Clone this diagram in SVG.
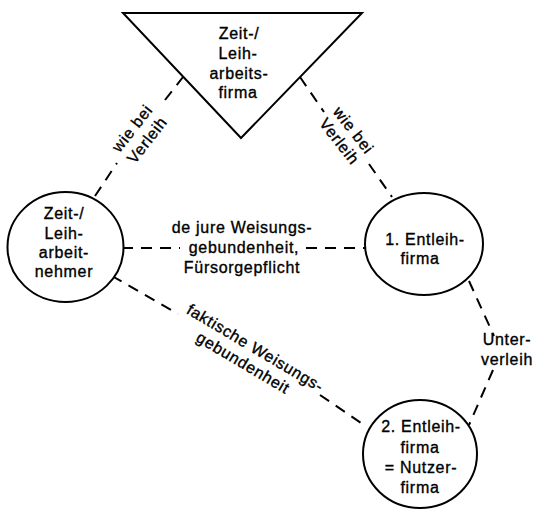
<svg xmlns="http://www.w3.org/2000/svg" width="534" height="510" viewBox="0 0 534 510">
<style>
.n{fill:#fff;stroke:#000;stroke-width:2}
.c{fill:none;stroke:#000;stroke-width:2;stroke-dasharray:11 8}
text{font-family:"Liberation Sans",Arial,sans-serif;font-size:16px;fill:#000;stroke:#000;stroke-width:0.35;letter-spacing:0.7px;text-anchor:middle}
</style>
<rect width="534" height="510" fill="#fff"/>
<g id="connectors">
<line class="c" x1="95" y1="196" x2="117" y2="163"/>
<line class="c" x1="165" y1="100" x2="183" y2="77"/>
<line class="c" x1="300" y1="77" x2="324" y2="112"/>
<line class="c" x1="369" y1="164" x2="392" y2="197"/>
<line class="c" x1="122" y1="248" x2="180" y2="248"/>
<line class="c" x1="306" y1="248" x2="366" y2="248"/>
<line class="c" x1="112" y1="276" x2="178" y2="314"/>
<line class="c" x1="320" y1="395" x2="367" y2="427"/>
<line class="c" x1="469" y1="281" x2="494" y2="336"/>
<line class="c" x1="493" y1="370" x2="469" y2="425"/>
<g id="label-left"><g transform="translate(139,135) rotate(-52)"><text x="1" y="-4">wie bei</text><text x="1" y="15">Verleih</text></g></g>
<g id="label-right"><g transform="translate(346,136) rotate(52)"><text x="0" y="-4">wie bei</text><text x="0" y="14">Verleih</text></g></g>
<g id="label-mid"><text x="242" y="233">de jure Weisungs-</text><text x="244" y="253">gebundenheit,</text><text x="242" y="273">Fürsorgepflicht</text></g>
<g id="label-bottom"><g transform="translate(250,357) rotate(30.7)"><text x="0" y="-5">faktische Weisungs-</text><text x="-3" y="14">gebundenheit</text></g></g>
<g id="label-unter"><text x="507" y="345">Unter-</text><text x="507" y="365">verleih</text></g>
</g>
<g id="verleihfirma">
<polygon class="n" points="123,13 362,13 241,138"/>
<text x="239" y="39">Zeit-/</text>
<text x="238" y="59">Leih-</text>
<text x="239" y="79">arbeits-</text>
<text x="238" y="98">firma</text>
</g>
<g id="arbeitnehmer">
<ellipse class="n" cx="65.5" cy="247" rx="58" ry="55"/>
<text x="64" y="219">Zeit-/</text>
<text x="64" y="239">Leih-</text>
<text x="64" y="258">arbeit-</text>
<text x="64" y="277">nehmer</text>
</g>
<g id="entleihfirma1">
<ellipse class="n" cx="424" cy="244" rx="59" ry="51"/>
<text x="425" y="245">1. Entleih-</text>
<text x="420" y="264">firma</text>
</g>
<g id="entleihfirma2">
<ellipse class="n" cx="420" cy="454" rx="57" ry="54"/>
<text x="421" y="432">2. Entleih-</text>
<text x="420" y="453">firma</text>
<text x="421" y="473">= Nutzer-</text>
<text x="420" y="493">firma</text>
</g>
</svg>
